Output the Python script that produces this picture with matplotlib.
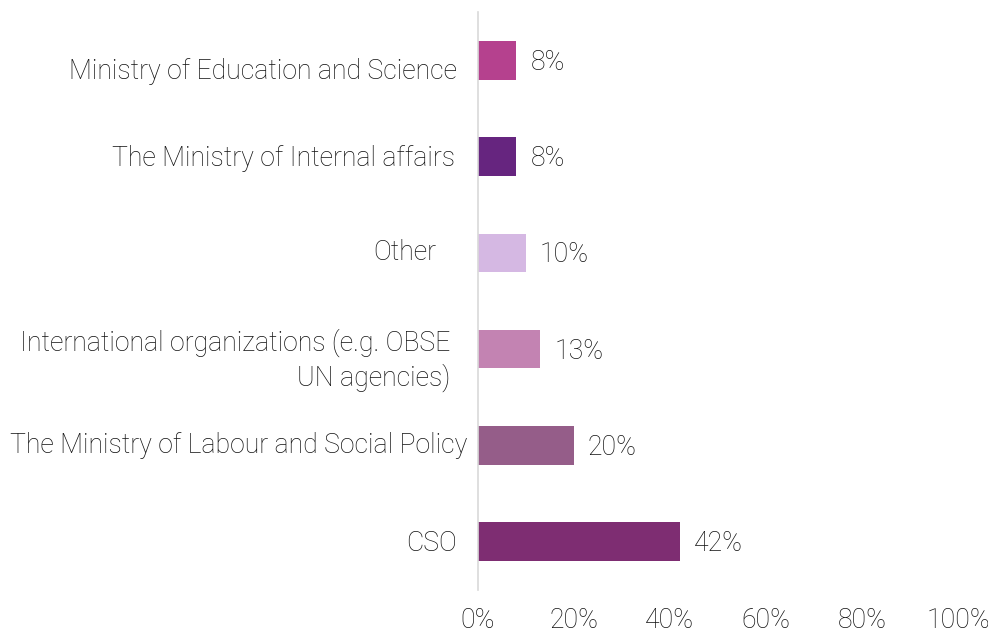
import matplotlib
matplotlib.use("Agg")
import matplotlib.pyplot as plt
from matplotlib.ticker import FuncFormatter, MultipleLocator

plt.rcParams['font.family'] = ['Roboto', 'DejaVu Sans']
plt.rcParams['font.weight'] = 'light'

# top to bottom
categories = [
    "Ministry of Education and Science",
    "The Ministry of Internal affairs",
    "Other",
    "International organizations (e.g. OBSE\nUN agencies)",
    "The Ministry of Labour and Social Policy",
    "CSO",
]
values = [8, 8, 10, 13, 20, 42]
colors = ["#B5418E", "#66257F", "#D5B8E3", "#C383B2", "#955D89", "#7E2D72"]
# label offsets from the axis, in points (x gap, y shift)
label_gaps = [15, 16.5, 30, 20, 7.5, 15]
label_shift = [-8, -1.5, 0, -8, 0, -1]

text_color = "#111111"
fs = 19.2

fig = plt.figure(figsize=(9.88, 6.37), dpi=100)
ax = fig.add_axes([0.4838, 0.074, 0.4858, 0.907])

ypos = list(range(len(categories)))
ax.barh(ypos, values, height=0.4, color=colors)

for y, v in zip(ypos, values):
    ax.annotate(f"{v}%", (v, y), xytext=(10, -1.5), textcoords="offset points",
                va="center", ha="left", fontsize=fs, color=text_color)

for y, name, gap, dy in zip(ypos, categories, label_gaps, label_shift):
    ax.annotate(name, (0, y), xycoords=("axes fraction", "data"),
                xytext=(-gap, dy), textcoords="offset points",
                va="center", ha="right", multialignment="right",
                fontsize=fs, color=text_color, linespacing=1.3)

ax.set_xlim(0, 100)
ax.set_ylim(len(categories) - 0.5, -0.5)
ax.xaxis.set_major_locator(MultipleLocator(20))
ax.xaxis.set_major_formatter(FuncFormatter(lambda x, _: f"{x:.0f}%"))
ax.set_yticks([])
ax.tick_params(axis="x", length=0, pad=12, labelsize=fs, labelcolor=text_color)

for side in ["top", "right", "bottom"]:
    ax.spines[side].set_visible(False)
ax.spines["left"].set_color("#D9D9D9")
ax.spines["left"].set_linewidth(1.2)

fig.savefig("out.png", dpi=100)
